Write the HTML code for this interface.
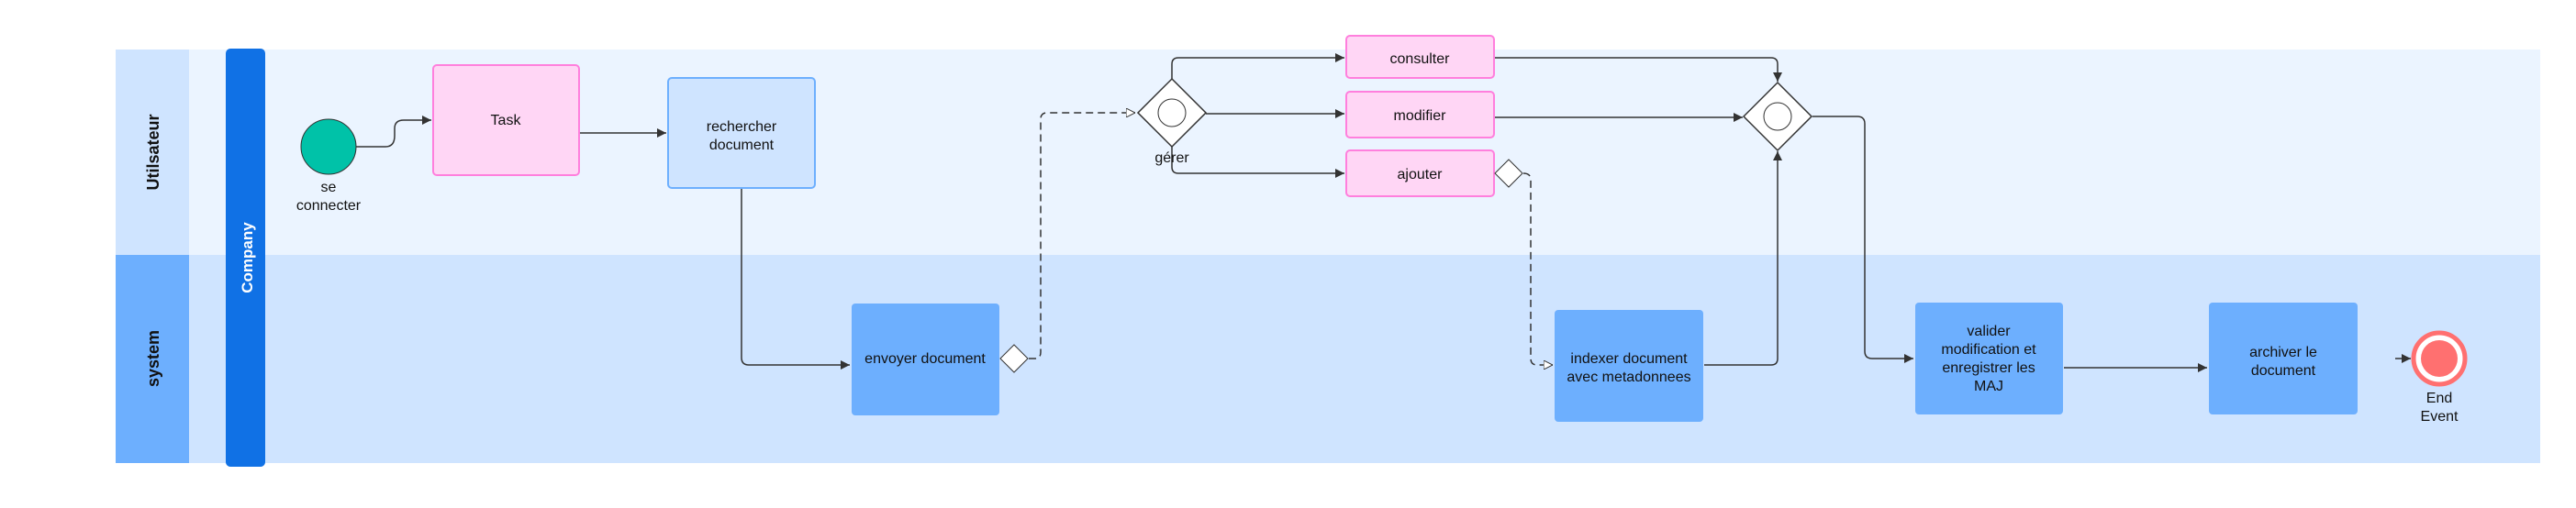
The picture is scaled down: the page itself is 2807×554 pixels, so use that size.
<!DOCTYPE html>
<html><head><meta charset="utf-8"><style>
body{margin:0;background:#fff;width:2807px;height:549px;overflow:hidden}
svg text{font-family:"Liberation Sans",sans-serif;fill:#111}
</style></head><body>
<svg width="2807" height="549" xmlns="http://www.w3.org/2000/svg">
<defs>
<marker id="a" viewBox="0 0 10 10" refX="10" refY="5" markerWidth="10" markerHeight="10" markerUnits="userSpaceOnUse" orient="auto"><path d="M0,0L10,5L0,10z" fill="#333"/></marker>
<marker id="o" viewBox="0 0 10 10" refX="10" refY="5" markerWidth="10" markerHeight="10" markerUnits="userSpaceOnUse" orient="auto"><path d="M0,0L10,5L0,10z" fill="#fff" stroke="#333"/></marker>
</defs>
<rect x="206" y="54" width="2562" height="224" fill="#ebf4ff"/>
<rect x="206" y="278" width="2562" height="227" fill="#cfe4ff"/>
<rect x="126" y="54" width="80" height="224" fill="#cfe4ff"/>
<rect x="126" y="278" width="80" height="227" fill="#6daffe"/>
<rect x="246" y="53" width="43" height="456" rx="5" fill="#1071e5"/>
<text transform="translate(173,166) rotate(-90)" text-anchor="middle" font-size="18" font-weight="bold">Utilsateur</text>
<text transform="translate(173,391) rotate(-90)" text-anchor="middle" font-size="18" font-weight="bold">system</text>
<text transform="translate(275,281) rotate(-90)" text-anchor="middle" font-size="17" font-weight="bold" style="fill:#fff">Company</text>
<g fill="none" stroke="#333" stroke-width="1.5">
<path d="M388,160 H420 Q430,160 430,148 V140 Q430,131 440,131 H470" marker-end="url(#a)"/>
<path d="M632,145 H726" marker-end="url(#a)"/>
<path d="M808,206 V390 Q808,398 816,398 H926" marker-end="url(#a)"/>
<path d="M1121,391 H1128 Q1134,391 1134,384 V130 Q1134,123 1141,123 H1237" stroke-dasharray="8,5" marker-end="url(#o)"/>
<path d="M1277,86 V70 Q1277,63 1284,63 H1465" marker-end="url(#a)"/>
<path d="M1314,124 H1465" marker-end="url(#a)"/>
<path d="M1277,160 V182 Q1277,189 1284,189 H1465" marker-end="url(#a)"/>
<path d="M1660,189 Q1668,189 1668,196 V391 Q1668,398 1675,398 H1692" stroke-dasharray="8,5" marker-end="url(#o)"/>
<path d="M1629,63 H1930 Q1937,63 1937,70 V89" marker-end="url(#a)"/>
<path d="M1629,128 H1899" marker-end="url(#a)"/>
<path d="M1857,398 H1930 Q1937,398 1937,391 V165" marker-end="url(#a)"/>
<path d="M1975,127 H2024 Q2032,127 2032,135 V383 Q2032,391 2040,391 H2085" marker-end="url(#a)"/>
<path d="M2249,401 H2405" marker-end="url(#a)"/>
<path d="M2610,391 H2627" marker-end="url(#a)"/>
</g>
<circle cx="358" cy="160" r="30" fill="#00c2a8" stroke="#333" stroke-width="1"/>
<text x="358" y="209" text-anchor="middle" font-size="16">se</text>
<text x="358" y="229" text-anchor="middle" font-size="16">connecter</text>
<rect x="472" y="71" width="159" height="120" rx="4" fill="#ffd6f5" stroke="#ff7fdd" stroke-width="2"/>
<text x="551" y="136" text-anchor="middle" font-size="16">Task</text>
<rect x="728" y="85" width="160" height="120" rx="4" fill="#cfe4ff" stroke="#6daffe" stroke-width="2"/>
<text x="808" y="143" text-anchor="middle" font-size="16">rechercher</text>
<text x="808" y="163" text-anchor="middle" font-size="16">document</text>
<rect x="928" y="331" width="161" height="122" rx="4" fill="#6daffe"/>
<text x="1008" y="396" text-anchor="middle" font-size="16">envoyer document</text>
<path d="M1105,376L1120,391L1105,406L1090,391z" fill="#fff" stroke="#333"/>
<path d="M1277,86L1314,123L1277,160L1240,123z" fill="#fff" stroke="#333" stroke-width="1.5"/>
<circle cx="1277" cy="123" r="15" fill="#fff" stroke="#333"/>
<text x="1277" y="177" text-anchor="middle" font-size="16">gérer</text>
<rect x="1467" y="39" width="161" height="46" rx="4" fill="#ffd6f5" stroke="#ff7fdd" stroke-width="2"/>
<text x="1547" y="69" text-anchor="middle" font-size="16">consulter</text>
<rect x="1467" y="100" width="161" height="50" rx="4" fill="#ffd6f5" stroke="#ff7fdd" stroke-width="2"/>
<text x="1547" y="131" text-anchor="middle" font-size="16">modifier</text>
<rect x="1467" y="164" width="161" height="50" rx="4" fill="#ffd6f5" stroke="#ff7fdd" stroke-width="2"/>
<text x="1547" y="195" text-anchor="middle" font-size="16">ajouter</text>
<path d="M1644,174L1659,189L1644,204L1629,189z" fill="#fff" stroke="#333"/>
<rect x="1694" y="338" width="162" height="122" rx="4" fill="#6daffe"/>
<text x="1775" y="396" text-anchor="middle" font-size="16">indexer document</text>
<text x="1775" y="416" text-anchor="middle" font-size="16">avec metadonnees</text>
<path d="M1937,90L1974,127L1937,164L1900,127z" fill="#fff" stroke="#333" stroke-width="1.5"/>
<circle cx="1937" cy="127" r="15" fill="#fff" stroke="#333"/>
<rect x="2087" y="330" width="161" height="122" rx="4" fill="#6daffe"/>
<text x="2167" y="366" text-anchor="middle" font-size="16">valider</text>
<text x="2167" y="386" text-anchor="middle" font-size="16">modification et</text>
<text x="2167" y="406" text-anchor="middle" font-size="16">enregistrer les</text>
<text x="2167" y="426" text-anchor="middle" font-size="16">MAJ</text>
<rect x="2407" y="330" width="162" height="122" rx="4" fill="#6daffe"/>
<text x="2488" y="389" text-anchor="middle" font-size="16">archiver le</text>
<text x="2488" y="409" text-anchor="middle" font-size="16">document</text>
<circle cx="2658" cy="391" r="28" fill="#fff" stroke="#ff7070" stroke-width="5"/>
<circle cx="2658" cy="391" r="20" fill="#ff7070"/>
<text x="2658" y="439" text-anchor="middle" font-size="16">End</text>
<text x="2658" y="459" text-anchor="middle" font-size="16">Event</text>
</svg>
</body></html>
